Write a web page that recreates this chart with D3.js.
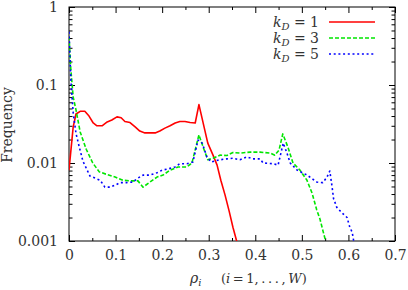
<!DOCTYPE html>
<html><head><meta charset="utf-8">
<script src="https://cdn.jsdelivr.net/npm/d3@7"></script>
<style>
body{margin:0;background:#fff}
svg{display:block}
</style>
</head><body>
<svg id="c" width="408" height="290"></svg>
<script>
// k_D = 1
const rho1 = [0, 0.009, 0.015, 0.024, 0.034, 0.043, 0.052, 0.060, 0.071, 0.082, 0.092, 0.103, 0.112, 0.120, 0.131, 0.142, 0.152, 0.163, 0.174, 0.185, 0.195, 0.206, 0.217, 0.228, 0.238, 0.249, 0.260, 0.271, 0.279, 0.298, 0.309, 0.318, 0.326, 0.335, 0.344, 0.352, 0.361];
const f1   = [0.0081, 0.029, 0.0425, 0.046, 0.046, 0.040, 0.0326, 0.030, 0.030, 0.0336, 0.0356, 0.039, 0.038, 0.034, 0.033, 0.029, 0.0257, 0.0243, 0.0243, 0.0243, 0.0257, 0.028, 0.030, 0.0326, 0.034, 0.034, 0.033, 0.0326, 0.056, 0.018, 0.0127, 0.0094, 0.006, 0.0039, 0.0024, 0.0015, 0.00095];
// k_D = 3
const rho3 = [0, 0.004, 0.009, 0.015, 0.024, 0.037, 0.051, 0.065, 0.079, 0.099, 0.116, 0.135, 0.148, 0.159, 0.174, 0.189, 0.202, 0.217, 0.234, 0.253, 0.264, 0.279, 0.288, 0.298, 0.309, 0.324, 0.339, 0.352, 0.367, 0.389, 0.410, 0.432, 0.442, 0.451, 0.459, 0.470, 0.481, 0.496, 0.511, 0.522, 0.532, 0.539, 0.546, 0.552];
const f3   = [0.42, 0.156, 0.07, 0.048, 0.025, 0.015, 0.010, 0.0077, 0.0072, 0.0066, 0.0060, 0.0059, 0.0059, 0.0049, 0.0057, 0.0066, 0.0070, 0.0081, 0.0089, 0.0089, 0.010, 0.023, 0.016, 0.011, 0.0115, 0.0126, 0.0125, 0.0136, 0.0134, 0.0138, 0.0138, 0.0134, 0.0126, 0.0146, 0.0236, 0.016, 0.010, 0.0081, 0.0060, 0.0041, 0.0025, 0.0019, 0.0013, 0.00095];
// k_D = 5
const rho5 = [0, 0.004, 0.009, 0.015, 0.021, 0.030, 0.045, 0.056, 0.067, 0.077, 0.088, 0.099, 0.110, 0.124, 0.137, 0.148, 0.159, 0.174, 0.189, 0.200, 0.213, 0.228, 0.238, 0.253, 0.266, 0.277, 0.286, 0.296, 0.305, 0.324, 0.339, 0.352, 0.367, 0.382, 0.395, 0.410, 0.417, 0.438, 0.449, 0.460, 0.468, 0.475, 0.490, 0.511, 0.532, 0.545, 0.554, 0.560, 0.565, 0.568, 0.575, 0.586, 0.597, 0.603, 0.608, 0.612];
const f5   = [0.48, 0.116, 0.044, 0.024, 0.017, 0.0105, 0.0068, 0.0064, 0.0060, 0.0049, 0.0049, 0.0052, 0.0056, 0.0056, 0.0057, 0.0064, 0.0070, 0.0070, 0.0075, 0.0081, 0.0084, 0.0089, 0.0098, 0.0098, 0.0103, 0.0197, 0.018, 0.012, 0.0103, 0.011, 0.0113, 0.0115, 0.011, 0.012, 0.0113, 0.0113, 0.010, 0.0098, 0.0094, 0.018, 0.0134, 0.010, 0.0081, 0.0070, 0.0057, 0.0056, 0.0066, 0.0079, 0.0049, 0.0035, 0.0027, 0.0023, 0.0020, 0.0015, 0.0013, 0.00095];

const seriesNames = ["1", "3", "5"];
const xTicks = [0, 0.1, 0.2, 0.3, 0.4, 0.5, 0.6, 0.7];
const xMinor = [0.05, 0.15, 0.25, 0.35, 0.45, 0.55, 0.65];
const yTicks = [0.001, 0.01, 0.1, 1];
const yTickLabels = ["0.001", "0.01", "0.1", "1"];

const FONT = "DejaVu Serif";
const FS = 14;
const TXT = "#333";
const svg = d3.select("#c");
const L = 69, R = 395, T = 7, B = 241;
const x = d3.scaleLinear().domain([0, 0.7]).range([L, R]);
const y = d3.scaleLog().domain([0.001, 1]).range([B, T]);

const yMinor = [];
[0.001, 0.01, 0.1].forEach(d => { for (let k = 2; k <= 9; k++) yMinor.push(d * k); });

svg.append("defs").append("clipPath").attr("id", "clip")
  .append("rect").attr("x", L).attr("y", T).attr("width", R - L).attr("height", B - T);

function styleAxis(g) {
  g.attr("font-family", FONT);
  g.select(".domain").remove();
  g.selectAll("line").attr("stroke", "#000").attr("stroke-width", 1);
  g.selectAll("text").style("font-size", FS + "px").style("fill", TXT).style("font-family", FONT);
}

// bottom
svg.append("g").attr("transform", `translate(0,${B})`)
  .call(d3.axisBottom(x).tickValues(xTicks).tickSize(-6).tickPadding(9).tickFormat(d3.format("")))
  .call(styleAxis);
svg.append("g").attr("transform", `translate(0,${B})`)
  .call(d3.axisBottom(x).tickValues(xMinor).tickSize(-3).tickFormat(""))
  .call(styleAxis);
// top
svg.append("g").attr("transform", `translate(0,${T})`)
  .call(d3.axisTop(x).tickValues(xTicks).tickSize(-6).tickFormat(""))
  .call(styleAxis);
svg.append("g").attr("transform", `translate(0,${T})`)
  .call(d3.axisTop(x).tickValues(xMinor).tickSize(-3).tickFormat(""))
  .call(styleAxis);
// left
svg.append("g").attr("transform", `translate(${L},0)`)
  .call(d3.axisLeft(y).tickValues(yTicks).tickSize(-6).tickPadding(11).tickFormat((d, i) => yTickLabels[i]))
  .call(styleAxis);
svg.append("g").attr("transform", `translate(${L},0)`)
  .call(d3.axisLeft(y).tickValues(yMinor).tickSize(-3.5).tickFormat(""))
  .call(styleAxis);
// right
svg.append("g").attr("transform", `translate(${R},0)`)
  .call(d3.axisRight(y).tickValues(yTicks).tickSize(-6).tickFormat(""))
  .call(styleAxis);
svg.append("g").attr("transform", `translate(${R},0)`)
  .call(d3.axisRight(y).tickValues(yMinor).tickSize(-3.5).tickFormat(""))
  .call(styleAxis);

svg.append("rect").attr("x", L).attr("y", T).attr("width", R - L).attr("height", B - T)
  .attr("fill", "none").attr("stroke", "#000").attr("stroke-width", 1);

const series = [
  {rho: rho1, f: f1, color: "#ff0000", dash: null, w: 1.6},
  {rho: rho3, f: f3, color: "#00e600", dash: "4,2", w: 1.6},
  {rho: rho5, f: f5, color: "#0000ff", dash: "2,2.7", w: 1.6}
];
const line = d3.line().x(d => x(d[0])).y(d => y(d[1]));
const plot = svg.append("g").attr("clip-path", "url(#clip)");
series.forEach(s => {
  plot.append("path").datum(s.rho.map((r, i) => [r, s.f[i]]))
    .attr("d", line).attr("fill", "none").attr("stroke", s.color)
    .attr("stroke-width", s.w).attr("stroke-dasharray", s.dash)
    .attr("stroke-linejoin", "round");
});

function txt(sel) { return sel.style("font-family", FONT).style("fill", TXT).style("font-size", FS + "px"); }

// legend
const legY = [22, 38, 54];
series.forEach((s, i) => {
  const t = txt(svg.append("text")).attr("x", 319).attr("y", legY[i] + 5)
    .attr("text-anchor", "end");
  t.append("tspan").style("font-style", "italic").text("k");
  t.append("tspan").style("font-style", "italic").style("font-size", "10px").attr("dy", 3).text("D");
  t.append("tspan").attr("dy", -3).text(" = " + seriesNames[i]);
  svg.append("line").attr("x1", 329).attr("x2", 375).attr("y1", legY[i]).attr("y2", legY[i])
    .attr("stroke", s.color).attr("stroke-width", s.w).attr("stroke-dasharray", s.dash);
});

// axis titles
txt(svg.append("text")).attr("transform", "translate(12,125) rotate(-90)")
  .attr("text-anchor", "middle").text("Frequency");

const xl = txt(svg.append("text")).attr("x", 190).attr("y", 283);
xl.append("tspan").style("font-style", "italic").text("ρ");
xl.append("tspan").style("font-style", "italic").style("font-size", "10px").attr("dy", 3).text("i");

const xl2 = txt(svg.append("text")).attr("x", 221).attr("y", 283).style("font-size", "13px");
xl2.append("tspan").text("(");
xl2.append("tspan").style("font-style", "italic").text("i");
xl2.append("tspan").text("\u2009=\u20091,\u2009.\u2009.\u2009.\u2009,\u2009");
xl2.append("tspan").style("font-style", "italic").text("W");
xl2.append("tspan").text(")");
</script>
</body></html>
